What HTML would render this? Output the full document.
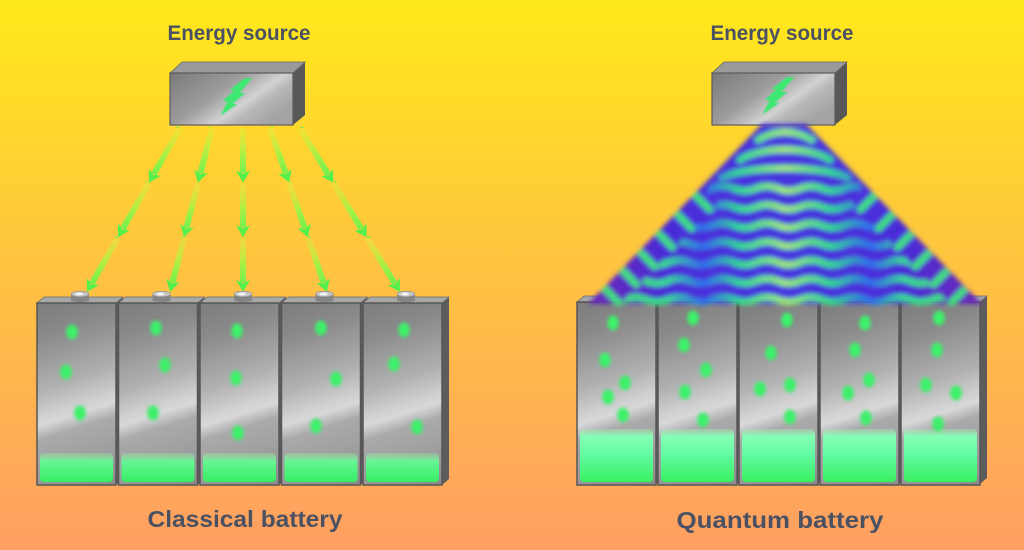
<!DOCTYPE html>
<html><head><meta charset="utf-8"><style>
html,body{margin:0;padding:0;width:1024px;height:550px;overflow:hidden;}
svg{display:block;}
</style></head><body>
<svg width="1024" height="550" viewBox="0 0 1024 550" xmlns="http://www.w3.org/2000/svg">
<defs>
  <linearGradient id="bg" x1="0" y1="0" x2="0" y2="1">
    <stop offset="0" stop-color="#ffe91a"/>
    <stop offset="0.45" stop-color="#ffc63e"/>
    <stop offset="1" stop-color="#ff9f62"/>
  </linearGradient>
  <linearGradient id="metal" gradientUnits="userSpaceOnUse" x1="0" y1="0" x2="60" y2="190">
    <stop offset="0" stop-color="#7a7a7a"/>
    <stop offset="0.2" stop-color="#8a8a8a"/>
    <stop offset="0.45" stop-color="#b0b0b0"/>
    <stop offset="0.58" stop-color="#d0d0d0"/>
    <stop offset="0.62" stop-color="#d8d8d8"/>
    <stop offset="0.69" stop-color="#aaaaaa"/>
    <stop offset="0.82" stop-color="#a0a0a0"/>
    <stop offset="1" stop-color="#8c8c8c"/>
  </linearGradient>
  <linearGradient id="boxmetal" gradientUnits="objectBoundingBox" x1="0" y1="0" x2="1" y2="0.6">
    <stop offset="0" stop-color="#7a7a7a"/>
    <stop offset="0.45" stop-color="#9c9c9c"/>
    <stop offset="0.7" stop-color="#d2d2d2"/>
    <stop offset="0.8" stop-color="#b8b8b8"/>
    <stop offset="1" stop-color="#a4a4a4"/>
  </linearGradient>
  <linearGradient id="greenC" x1="0" y1="0" x2="0" y2="1">
    <stop offset="0" stop-color="#9af0a8" stop-opacity="0.3"/>
    <stop offset="0.3" stop-color="#66f594"/>
    <stop offset="1" stop-color="#36ee62"/>
  </linearGradient>
  <linearGradient id="greenQ" x1="0" y1="0" x2="0" y2="1">
    <stop offset="0" stop-color="#a0f0b0" stop-opacity="0.35"/>
    <stop offset="0.14" stop-color="#84ffb6"/>
    <stop offset="0.5" stop-color="#62faa0"/>
    <stop offset="1" stop-color="#38f060"/>
  </linearGradient>
  <linearGradient id="arrowg" gradientUnits="userSpaceOnUse" x1="0" y1="128" x2="0" y2="182.67" spreadMethod="repeat">
    <stop offset="0" stop-color="#e0f040" stop-opacity="0.35"/>
    <stop offset="0.5" stop-color="#a8f044"/>
    <stop offset="1" stop-color="#58f050"/>
  </linearGradient>
  <linearGradient id="wavebase" gradientUnits="userSpaceOnUse" x1="590" y1="0" x2="980" y2="0">
    <stop offset="0" stop-color="#6a28b8"/>
    <stop offset="0.2" stop-color="#4a2cd8"/>
    <stop offset="0.5" stop-color="#4636e0"/>
    <stop offset="0.8" stop-color="#4a2cd8"/>
    <stop offset="1" stop-color="#6a28b8"/>
  </linearGradient>
  <linearGradient id="bandg" gradientUnits="userSpaceOnUse" x1="590" y1="0" x2="980" y2="0">
    <stop offset="0" stop-color="#40e070"/>
    <stop offset="0.2" stop-color="#38d890"/>
    <stop offset="0.29" stop-color="#2f6cf0"/>
    <stop offset="0.38" stop-color="#30d890"/>
    <stop offset="0.5" stop-color="#9ee878"/>
    <stop offset="0.62" stop-color="#30d890"/>
    <stop offset="0.72" stop-color="#2f6cf0"/>
    <stop offset="0.8" stop-color="#38d890"/>
    <stop offset="1" stop-color="#40e070"/>
  </linearGradient>
  <filter id="blur3" x="-20%" y="-20%" width="140%" height="140%"><feGaussianBlur stdDeviation="2.4"/></filter>
  <filter id="blur1" x="-60%" y="-60%" width="220%" height="220%"><feGaussianBlur stdDeviation="1.8"/></filter>
  <filter id="blurb" x="-50%" y="-50%" width="200%" height="200%"><feGaussianBlur stdDeviation="1.2"/></filter>
  <clipPath id="outerclip"><polygon points="762,124 806,124 982,306 586,306"/></clipPath>
  <clipPath id="innerclip"><polygon points="750,118 820,118 865,195 845,195 952,306 618,306 725,195 705,195"/></clipPath>
  <marker id="ah" markerUnits="userSpaceOnUse" markerWidth="18" markerHeight="18" viewBox="-2 -9 18 18" refX="2" refY="0" orient="auto">
    <path d="M0,-7 L12,0 L0,7 L3,0 Z" fill="#55f04c"/>
  </marker>
  <path id="wave" d="M580,0 q11,-4.5 22,0 t22,0 t22,0 t22,0 t22,0 t22,0 t22,0 t22,0 t22,0 t22,0 t22,0 t22,0 t22,0 t22,0 t22,0 t22,0 t22,0 t22,0 t22,0"/>
  <g id="batC">
    <polygon points="79,6 86,0 86,182 79,188" fill="#5c5c5c"/>
    <polygon points="0,6 7,0 86,0 79,6" fill="#a8a8a8" stroke="#6a6a6a" stroke-width="0.8"/>
    <rect x="0" y="6" width="79" height="182" fill="url(#metal)" stroke="#565656" stroke-width="1.5"/>
    <rect x="3" y="156" width="73" height="29" rx="4" fill="url(#greenC)"/>
    <rect x="34" y="-3" width="18" height="6" fill="#858585"/>
    <ellipse cx="43" cy="3" rx="9" ry="2.2" fill="#858585"/>
    <ellipse cx="43" cy="-3" rx="9" ry="2.8" fill="#c4c4c4" stroke="#8a8a8a" stroke-width="0.6"/>
    <ellipse cx="42" cy="-3" rx="4" ry="1.5" fill="#f4f4f4"/>
  </g>
  <g id="batQ">
    <polygon points="79,6 86,0 86,182 79,188" fill="#5c5c5c"/>
    <polygon points="0,6 7,0 86,0 79,6" fill="#a8a8a8" stroke="#6a6a6a" stroke-width="0.8"/>
    <rect x="0" y="6" width="79" height="183" fill="url(#metal)" stroke="#565656" stroke-width="1.5"/>
    <rect x="3" y="133" width="73" height="53" rx="4" fill="url(#greenQ)"/>
    <rect x="34" y="-3" width="18" height="6" fill="#858585"/>
    <ellipse cx="43" cy="3" rx="9" ry="2.2" fill="#858585"/>
    <ellipse cx="43" cy="-3" rx="9" ry="2.8" fill="#c4c4c4" stroke="#8a8a8a" stroke-width="0.6"/>
    <ellipse cx="42" cy="-3" rx="4" ry="1.5" fill="#f4f4f4"/>
  </g>
  <g id="ebox">
    <polygon points="293,73 305,62 305,115 293,125" fill="#585858"/>
    <polygon points="170,73 182,62 305,62 293,73" fill="#9a9a9a" stroke="#666" stroke-width="0.8"/>
    <rect x="170" y="73" width="123" height="52" fill="url(#boxmetal)" stroke="#5a5a5a" stroke-width="1.2"/>
  </g>
</defs>

<rect x="0" y="0" width="1024" height="550" fill="url(#bg)"/>

<g font-family="'Liberation Sans', Arial, sans-serif" font-weight="bold" fill="#4a5163" text-anchor="middle">
  <text x="239" y="40" font-size="21" textLength="143" lengthAdjust="spacingAndGlyphs">Energy source</text>
  <text x="782" y="40" font-size="21" textLength="143" lengthAdjust="spacingAndGlyphs">Energy source</text>
  <text x="245" y="527" font-size="23" textLength="195" lengthAdjust="spacingAndGlyphs">Classical battery</text>
  <text x="780" y="528" font-size="23" textLength="207" lengthAdjust="spacingAndGlyphs">Quantum battery</text>
</g>

<use href="#ebox"/>
<use href="#ebox" transform="translate(542,0)"/>
<g fill="#3ee873" filter="url(#blurb)" opacity="0.6">
  <polygon points="252,78 239,93 245,93 232,104 237,104 221,115 228,101 223,101 235,90 230,90 244,79"/>
  <polygon points="794,77 781,92 787,92 774,103 779,103 763,114 770,100 765,100 777,89 772,89 786,78"/>
</g>
<g fill="#3ee873">
  <polygon points="252,78 239,93 245,93 232,104 237,104 221,115 228,101 223,101 235,90 230,90 244,79"/>
  <polygon points="794,77 781,92 787,92 774,103 779,103 763,114 770,100 765,100 777,89 772,89 786,78"/>
</g>

<g stroke="url(#arrowg)" stroke-width="6" fill="none" marker-end="url(#ah)">
  <line x1="180" y1="128" x2="153.9" y2="174"/>
  <line x1="149" y1="182.7" x2="122.9" y2="228.6"/>
  <line x1="118" y1="237.3" x2="91.9" y2="283.3"/>
  <line x1="212" y1="128" x2="200.5" y2="173"/>
  <line x1="198" y1="182.7" x2="186.5" y2="227.6"/>
  <line x1="184" y1="237.3" x2="172.5" y2="282.3"/>
  <line x1="243" y1="128" x2="243.01" y2="172.7"/>
  <line x1="243" y1="182.7" x2="243.01" y2="227.3"/>
  <line x1="243" y1="237.3" x2="243.01" y2="282"/>
  <line x1="270" y1="128" x2="285.7" y2="173.2"/>
  <line x1="289" y1="182.7" x2="304.7" y2="227.9"/>
  <line x1="308" y1="237.3" x2="323.7" y2="282.6"/>
  <line x1="300" y1="128" x2="328.1" y2="174.2"/>
  <line x1="333.3" y1="182.7" x2="361.5" y2="228.8"/>
  <line x1="366.7" y1="237.3" x2="394.8" y2="283.5"/>
</g>

<use href="#batC" transform="translate(37,297)"/>
<use href="#batC" transform="translate(118.5,297)"/>
<use href="#batC" transform="translate(200,297)"/>
<use href="#batC" transform="translate(281.5,297)"/>
<use href="#batC" transform="translate(363,297)"/>

<use href="#batQ" transform="translate(577,296)"/>
<use href="#batQ" transform="translate(658,296)"/>
<use href="#batQ" transform="translate(739,296)"/>
<use href="#batQ" transform="translate(820,296)"/>
<use href="#batQ" transform="translate(901,296)"/>

<g fill="#3cf06a" filter="url(#blur1)">
  <ellipse cx="72" cy="332" rx="5.8" ry="7.5"/>
  <ellipse cx="66" cy="372" rx="5.8" ry="7.5"/>
  <ellipse cx="80" cy="413" rx="5.8" ry="7.5"/>
  <ellipse cx="156" cy="328" rx="5.8" ry="7.5"/>
  <ellipse cx="165" cy="365" rx="5.8" ry="7.5"/>
  <ellipse cx="153" cy="413" rx="5.8" ry="7.5"/>
  <ellipse cx="237" cy="331" rx="5.8" ry="7.5"/>
  <ellipse cx="236" cy="378" rx="5.8" ry="7.5"/>
  <ellipse cx="238" cy="433" rx="5.8" ry="7.5"/>
  <ellipse cx="321" cy="328" rx="5.8" ry="7.5"/>
  <ellipse cx="336" cy="379" rx="5.8" ry="7.5"/>
  <ellipse cx="316" cy="426" rx="5.8" ry="7.5"/>
  <ellipse cx="404" cy="330" rx="5.8" ry="7.5"/>
  <ellipse cx="394" cy="364" rx="5.8" ry="7.5"/>
  <ellipse cx="417" cy="427" rx="5.8" ry="7.5"/>
  <ellipse cx="613" cy="323" rx="5.8" ry="7.5"/>
  <ellipse cx="605" cy="360" rx="5.8" ry="7.5"/>
  <ellipse cx="625" cy="383" rx="5.8" ry="7.5"/>
  <ellipse cx="608" cy="397" rx="5.8" ry="7.5"/>
  <ellipse cx="623" cy="415" rx="5.8" ry="7.5"/>
  <ellipse cx="693" cy="318" rx="5.8" ry="7.5"/>
  <ellipse cx="684" cy="345" rx="5.8" ry="7.5"/>
  <ellipse cx="706" cy="370" rx="5.8" ry="7.5"/>
  <ellipse cx="685" cy="392" rx="5.8" ry="7.5"/>
  <ellipse cx="703" cy="420" rx="5.8" ry="7.5"/>
  <ellipse cx="787" cy="320" rx="5.8" ry="7.5"/>
  <ellipse cx="771" cy="353" rx="5.8" ry="7.5"/>
  <ellipse cx="760" cy="389" rx="5.8" ry="7.5"/>
  <ellipse cx="790" cy="385" rx="5.8" ry="7.5"/>
  <ellipse cx="790" cy="417" rx="5.8" ry="7.5"/>
  <ellipse cx="865" cy="323" rx="5.8" ry="7.5"/>
  <ellipse cx="855" cy="350" rx="5.8" ry="7.5"/>
  <ellipse cx="869" cy="380" rx="5.8" ry="7.5"/>
  <ellipse cx="848" cy="393" rx="5.8" ry="7.5"/>
  <ellipse cx="866" cy="418" rx="5.8" ry="7.5"/>
  <ellipse cx="939" cy="318" rx="5.8" ry="7.5"/>
  <ellipse cx="937" cy="350" rx="5.8" ry="7.5"/>
  <ellipse cx="926" cy="385" rx="5.8" ry="7.5"/>
  <ellipse cx="956" cy="393" rx="5.8" ry="7.5"/>
  <ellipse cx="938" cy="424" rx="5.8" ry="7.5"/>
</g>

<g filter="url(#blur3)">
  <polygon points="762,124 806,124 982,304 588,304" fill="url(#wavebase)"/>
  <g clip-path="url(#outerclip)" fill="none" stroke="url(#bandg)" stroke-width="7" stroke-linecap="round">
    <path d="M758,140 Q785,124 812,140"/>
    <path d="M740,160 C760,146 810,146 830,160"/>
    <path d="M722,178 C745,165 825,165 848,178"/>
    <g clip-path="url(#innerclip)">
      <use href="#wave" transform="translate(0,188.5)"/>
      <use href="#wave" transform="translate(0,207)"/>
      <use href="#wave" transform="translate(0,225.5)"/>
      <use href="#wave" transform="translate(0,244)"/>
      <use href="#wave" transform="translate(0,262.5)"/>
      <use href="#wave" transform="translate(0,281)"/>
      <use href="#wave" transform="translate(0,299.5)"/>
    </g>
    <g stroke="#3ee07a">
      <line x1="696.5" y1="196.5" x2="709.5" y2="209.5"/>
      <line x1="678.5" y1="215.5" x2="691.5" y2="228.5"/>
      <line x1="659.5" y1="234.5" x2="672.5" y2="247.5"/>
      <line x1="641.5" y1="253.5" x2="654.5" y2="266.5"/>
      <line x1="623.5" y1="271.5" x2="636.5" y2="284.5"/>
      <line x1="605.5" y1="289.5" x2="618.5" y2="302.5"/>
      <line x1="873.5" y1="196.5" x2="860.5" y2="209.5"/>
      <line x1="891.5" y1="215.5" x2="878.5" y2="228.5"/>
      <line x1="910.5" y1="234.5" x2="897.5" y2="247.5"/>
      <line x1="928.5" y1="253.5" x2="915.5" y2="266.5"/>
      <line x1="946.5" y1="271.5" x2="933.5" y2="284.5"/>
      <line x1="964.5" y1="289.5" x2="951.5" y2="302.5"/>
    </g>
  </g>
</g>
</svg>
</body></html>
